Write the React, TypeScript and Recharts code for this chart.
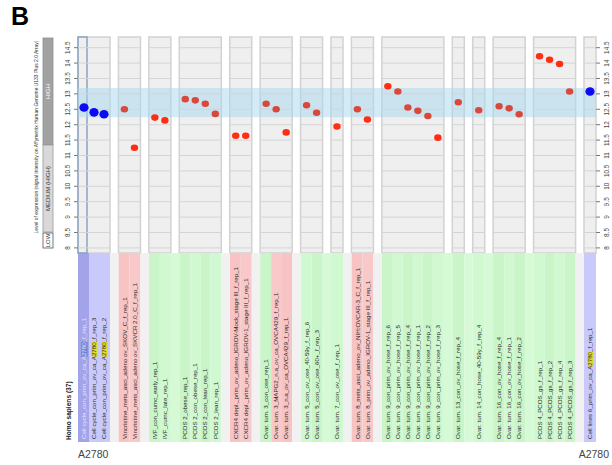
import React from 'react';
import { ComposedChart, Scatter, XAxis, YAxis, ReferenceArea, ReferenceLine } from 'recharts';

// ---------------- data ----------------
const groupSizes = [3, 2, 2, 4, 2, 3, 2, 1, 2, 6, 1, 1, 3, 4, 1];

const sampleLabels = [
  'Cell cycle_con_prim_ov_ca_A2780_f_rep_1',
  'Cell cycle_con_prim_ov_ca_A2780_f_rep_3',
  'Cell cycle_con_prim_ov_ca_A2780_f_rep_2',
  'Vincristine_mets_asci_adeno ov_SKOV_C_f_rep_1',
  'Vincristine_mets_asci_adeno ov_SKVCR 2.0_C_f_rep_1',
  'IVF_con_cumc_early_rep_1',
  'IVF_cumc_late_rep_1',
  'PCOS 2_obese_rep_1',
  'PCOS 2_con_obese_rep_1',
  'PCOS 2_con_lean_rep_1',
  'PCOS 2_lean_rep_1',
  'CXCR4 depl._prim_ov_adeno_IGROV-Mock_stage III_f_rep_1',
  'CXCR4 depl._prim_ov_adeno_IGROV-1_stage III_f_rep_1',
  'Ovar. tum. 3_con_ose_rep_1',
  'Ovar. tum. 3_MAPG2_n.a_ov_ca_OVCA429_f_rep_1',
  'Ovar. tum. 3_n.a_ov_ca_OVCA429_f_rep_1',
  'Ovar. tum. 5_con_ov_ose_40-59y_f_rep_6',
  'Ovar. tum. 5_con_ov_ose_60+_f_rep_3',
  'Ovar. tum. 7_con_ov_ose_f_rep_1',
  'Ovar. tum. 8_mets_asci_adeno_ov_NIH:OVCAR-3_C_f_rep_1',
  'Ovar. tum. 8_prim_ov_adeno_IGROV-1_stage III_f_rep_1',
  'Ovar. tum. 9_con_prim_ov_hose_f_rep_6',
  'Ovar. tum. 9_con_prim_ov_hose_f_rep_5',
  'Ovar. tum. 9_con_prim_ov_hose_f_rep_4',
  'Ovar. tum. 9_con_prim_ov_hose_f_rep_1',
  'Ovar. tum. 9_con_prim_ov_hose_f_rep_2',
  'Ovar. tum. 9_con_prim_ov_hose_f_rep_3',
  'Ovar. tum. 13_con_ov_hose_f_rep_4',
  'Ovar. tum. 14_con_hose_40-59y_f_rep_4',
  'Ovar. tum. 16_con_ov_hose_f_rep_4',
  'Ovar. tum. 16_con_ov_hose_f_rep_1',
  'Ovar. tum. 16_con_ov_hose_f_rep_2',
  'PCOS 4_PCOS_gs_f_rep_1',
  'PCOS 4_PCOS_gs_f_rep_2',
  'PCOS 4_PCOS_gs_f_rep_4',
  'PCOS 4_PCOS_gs_f_rep_3',
  'Cell lines 6_prim_ov_ca_A2780_f_rep_1',
];

const sampleValues = [
  12.56, 12.4, 12.34,
  12.5, 11.25,
  12.23, 12.14,
  12.83, 12.79, 12.68, 12.35,
  11.64, 11.64,
  12.68, 12.5, 11.75,
  12.63, 12.39,
  11.94,
  12.5, 12.17,
  13.25, 13.08, 12.56, 12.45, 12.28, 11.58,
  12.73,
  12.47,
  12.6, 12.53, 12.34,
  14.22, 14.11, 13.97, 13.08,
  13.08,
];

// A = A2780 cell line sample, T = treated / tumour, C = control
const sampleKinds = [
  'A', 'A', 'A',
  'T', 'T',
  'C', 'C',
  'C', 'C', 'C', 'C',
  'T', 'T',
  'C', 'T', 'T',
  'C', 'C',
  'C',
  'T', 'T',
  'C', 'C', 'C', 'C', 'C', 'C',
  'C',
  'C',
  'C', 'C', 'C',
  'C', 'C', 'C', 'C',
  'A',
];

const yTicks = [8, 8.5, 9, 9.5, 10, 10.5, 11, 11.5, 12, 12.5, 13, 13.5, 14, 14.5];
const bandRange = [12.24, 13.19];
const selectedSample = 0;
const highlightTerm = '2780';
const organismLabel = 'Homo sapiens (37)';
const referenceLabel = 'A2780';
const axisTitle = 'Level of expression (signal intensity on Affymetrix Human Genome U133 Plus 2.0 Array)';
const levelLabels = ['HIGH', 'MEDIUM (HIGH)', 'LOW'];
const panelLetter = 'B';

// ---------------- layout ----------------
const FONT = '"Liberation Sans", Arial, Helvetica, sans-serif';
const PAD = 0.1;
const GAP = 0.84;
const Y_TOP = 14.847;
const Y_BOTTOM = 1.698;
const PLOT_FLOOR = 7.834;
const LABEL_SIZE = 6.2;

type Sample = { x: number; left: number; right: number; first: boolean; last: boolean; group: number; idx: number };
const samples: Sample[] = [];
const groups: { start: number; end: number; first: number; last: number }[] = [];
{
  let pos = 0;
  let idx = 0;
  groupSizes.forEach((n, g) => {
    const start = pos;
    const firstIdx = idx;
    for (let i = 0; i < n; i++) {
      samples.push({
        x: start + PAD + i + 0.5,
        left: start + PAD + i,
        right: start + PAD + i + 1,
        first: i === 0,
        last: i === n - 1,
        group: g,
        idx,
      });
      idx++;
    }
    groups.push({ start, end: start + n + 2 * PAD, first: firstIdx, last: idx - 1 });
    pos = start + n + 2 * PAD + GAP;
  });
}
const X_MAX = groups[groups.length - 1].end;

const inBand = (v: number) => v >= bandRange[0] && v <= bandRange[1];
const dotData = samples.map((s, i) => ({
  x: s.x,
  y: sampleValues[i],
  color: sampleKinds[i] === 'A' ? '#0a0af5' : inBand(sampleValues[i]) ? '#d8493b' : '#ff2d12',
  big: sampleKinds[i] === 'A',
}));

const labelData = samples.map((s, i) => ({
  x: s.x,
  y: Y_BOTTOM,
  label: sampleLabels[i],
  textColor: i === selectedSample ? '#e4e4ff' : '#2a2a2a',
  highlight: sampleKinds[i] === 'A' ? (i === selectedSample ? '#6d84d8' : '#e3dc2b') : null,
}));

const kindFill = (k: string, i: number) => {
  const odd = i % 2 === 1;
  if (k === 'A') return i === selectedSample ? '#a3a3ea' : '#c9c9fb';
  if (k === 'T') return odd ? '#f7c3c3' : '#f9c9c9';
  return odd ? '#c9f5c9' : '#d1f9d1';
};

let ctx: CanvasRenderingContext2D | null = null;
function textWidth(s: string, size: number) {
  try {
    if (!ctx) ctx = document.createElement('canvas').getContext('2d');
    ctx!.font = `${size}px "Liberation Sans"`;
    return ctx!.measureText(s).width;
  } catch (e) {
    return s.length * size * 0.5;
  }
}

function SampleLabel(props: any) {
  const { cx, cy, payload } = props;
  if (cx == null || cy == null) return null;
  const text: string = payload.label;
  const hi = text.indexOf(highlightTerm);
  let rect = null;
  if (hi >= 0 && payload.highlight) {
    const x0 = textWidth(text.slice(0, hi), LABEL_SIZE);
    const w = textWidth(highlightTerm, LABEL_SIZE);
    rect = <rect x={x0 - 0.6} y={-LABEL_SIZE * 0.82} width={w + 1.2} height={LABEL_SIZE * 1.05} fill={payload.highlight} />;
  }
  return (
    <g transform={`translate(${cx + 2.2},${cy - 3}) rotate(-90)`}>
      {rect}
      <text x={0} y={0} fontSize={LABEL_SIZE} fontFamily={FONT} fill={payload.textColor}>
        {text}
      </text>
    </g>
  );
}

function Dot(props: any) {
  const { cx, cy, payload } = props;
  if (cx == null || cy == null) return null;
  if (payload.big) return <ellipse cx={cx} cy={cy} rx={4.6} ry={4.3} fill={payload.color} />;
  return <ellipse cx={cx} cy={cy} rx={3.7} ry={3.3} fill={payload.color} />;
}

function LeftTick(props: any) {
  const { x, y, payload } = props;
  return (
    <text transform={`translate(${x - 1.6},${y}) rotate(-90)`} textAnchor="middle" fontSize={6.4} fontFamily={FONT} fill="#444">
      {payload.value}
    </text>
  );
}
function RightTick(props: any) {
  const { x, y, payload } = props;
  return (
    <text transform={`translate(${x + 7.3},${y}) rotate(-90)`} textAnchor="middle" fontSize={6.4} fontFamily={FONT} fill="#444">
      {payload.value}
    </text>
  );
}

function gapFill(g: number) {
  const a = groups[g].last;
  const b = groups[g + 1].first;
  if (sampleKinds[a] === sampleKinds[b] && sampleKinds[a] === 'C') return '#d6fad6';
  return '#f1f1f1';
}

export default function App() {
  return (
    <div style={{ position: 'absolute', left: 0, top: 0, width: 612, height: 465, background: '#fff', fontFamily: FONT }}>
      <ComposedChart width={612} height={465} margin={{ top: 37, right: 0, bottom: 23, left: 0 }}>
        <XAxis dataKey="x" type="number" domain={[0, X_MAX]} hide allowDataOverflow />
        <YAxis
          yAxisId="l"
          dataKey="y"
          type="number"
          domain={[Y_BOTTOM, Y_TOP]}
          ticks={yTicks}
          interval={0}
          width={78}
          axisLine={false}
          tickSize={4}
          tickMargin={2}
          tickLine={{ stroke: '#777' }}
          tick={<LeftTick />}
          allowDataOverflow
        />
        <YAxis
          yAxisId="r"
          orientation="right"
          type="number"
          domain={[Y_BOTTOM, Y_TOP]}
          ticks={yTicks}
          interval={0}
          width={16}
          axisLine={false}
          tickSize={4}
          tickMargin={2}
          tickLine={{ stroke: '#777' }}
          tick={<RightTick />}
          allowDataOverflow
        />

        {/* plot columns */}
        {groups.map((g, i) => (
          <ReferenceArea key={`col${i}`} yAxisId="l" x1={g.start} x2={g.end} y1={PLOT_FLOOR} y2={Y_TOP} fill="#efefef" fillOpacity={1} stroke="#d2d2d2" strokeWidth={1.5} />
        ))}
        {groups.map((g, i) =>
          yTicks.map((t) => (
            <ReferenceLine key={`gl${i}-${t}`} yAxisId="l" segment={[{ x: g.start, y: t }, { x: g.end, y: t }]} stroke="#d4d4d4" strokeWidth={1} />
          ))
        )}

        {/* label bands */}
        {samples.map((s, i) => (
          <ReferenceArea
            key={`lb${i}`}
            yAxisId="l"
            x1={s.first ? s.left - PAD : s.left}
            x2={s.last ? s.right + PAD : s.right}
            y1={Y_BOTTOM}
            y2={PLOT_FLOOR}
            fill={kindFill(sampleKinds[i], i)}
            fillOpacity={1}
            stroke="none"
          />
        ))}
        {groups.slice(0, -1).map((g, i) => (
          <ReferenceArea key={`gap${i}`} yAxisId="l" x1={g.end} x2={groups[i + 1].start} y1={Y_BOTTOM} y2={PLOT_FLOOR} fill={gapFill(i)} fillOpacity={1} stroke="none" />
        ))}

        {/* selected sample outline */}
        <ReferenceArea yAxisId="l" x1={samples[selectedSample].left - PAD} x2={samples[selectedSample].right - 0.2} y1={PLOT_FLOOR} y2={Y_TOP} fill="none" stroke="#8aa6c4" strokeWidth={1.5} />

        {/* expression band */}
        <ReferenceArea yAxisId="l" x1={0} x2={X_MAX} y1={bandRange[0]} y2={bandRange[1]} fill="#a8d8ef" fillOpacity={0.5} stroke="none" />

        <Scatter yAxisId="l" data={dotData} dataKey="y" shape={<Dot />} isAnimationActive={false} />
        <Scatter yAxisId="l" data={labelData} dataKey="y" shape={<SampleLabel />} isAnimationActive={false} />
      </ComposedChart>

      <svg width={612} height={465} style={{ position: 'absolute', left: 0, top: 0, pointerEvents: 'none' }}>
        <text x={11} y={25} fontSize={25} fontWeight="bold" fontFamily={FONT} fill="#000">
          {panelLetter}
        </text>
        <text
          transform="translate(37.8,137) rotate(-90)"
          textAnchor="middle"
          fontSize={4.9}
          fontFamily={FONT}
          fill="#333"
          textLength={193}
          lengthAdjust="spacingAndGlyphs"
        >
          {axisTitle}
        </text>
        <rect x={43} y={38} width={10} height={107} fill="#a2a2a2" stroke="#8e8e8e" strokeWidth={0.8} />
        <rect x={43} y={145} width={10} height={87} fill="#d9d9d9" stroke="#9a9a9a" strokeWidth={0.8} />
        <rect x={43} y={233} width={10} height={15} fill="#ffffff" stroke="#555" strokeWidth={0.8} />
        <text transform="translate(50.2,91.5) rotate(-90)" textAnchor="middle" fontSize={6} fontFamily={FONT} fill="#fff">
          {levelLabels[0]}
        </text>
        <text transform="translate(50.2,188.5) rotate(-90)" textAnchor="middle" fontSize={6} fontFamily={FONT} fill="#333">
          {levelLabels[1]}
        </text>
        <text transform="translate(50.2,240.5) rotate(-90)" textAnchor="middle" fontSize={6} fontFamily={FONT} fill="#333">
          {levelLabels[2]}
        </text>
        <text transform="translate(71,440) rotate(-90)" fontSize={6.6} fontWeight="bold" fontFamily={FONT} fill="#222">
          {organismLabel}
        </text>
        <text x={78} y={458} fontSize={10.5} fontFamily={FONT} fill="#444">
          {referenceLabel}
        </text>
        <text x={609} y={458} textAnchor="end" fontSize={10.5} fontFamily={FONT} fill="#444">
          {referenceLabel}
        </text>
      </svg>
    </div>
  );
}
